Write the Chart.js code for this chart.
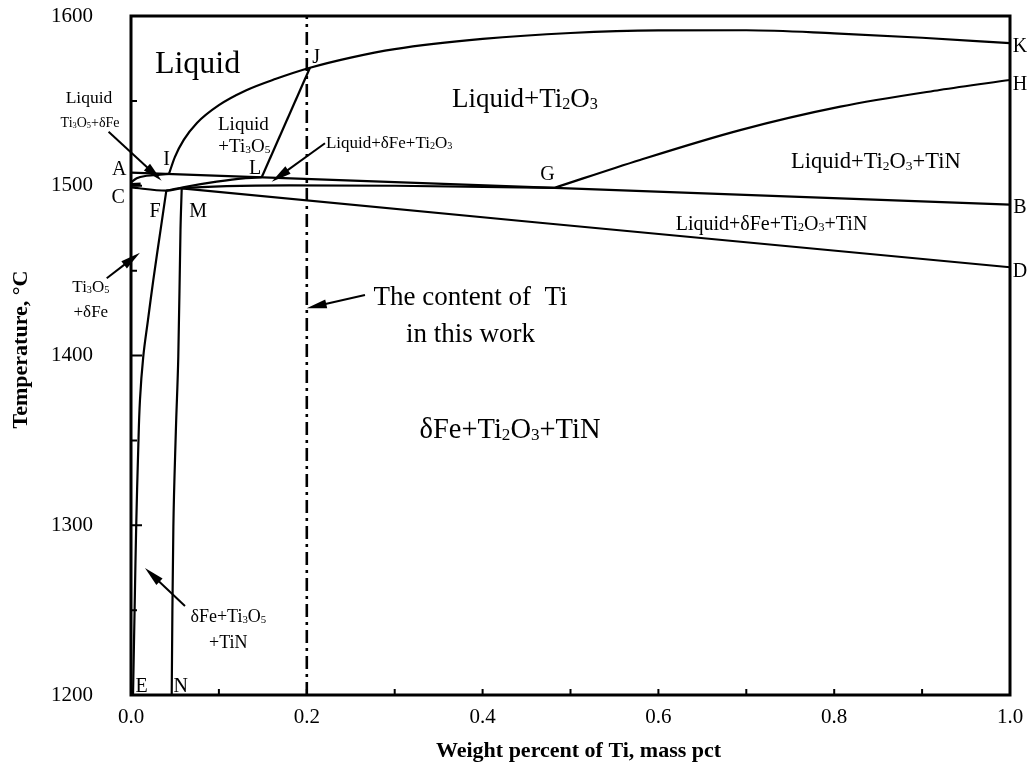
<!DOCTYPE html>
<html>
<head>
<meta charset="utf-8">
<title>Fe–Ti–O–N phase diagram</title>
<script src="https://cdn.jsdelivr.net/npm/chart.js@4.4.0/dist/chart.umd.min.js"></script>
<style>
  html, body { margin: 0; padding: 0; background: #fff; }
  #wrap { width: 1029px; height: 773px; }
</style>
</head>
<body>
<div id="wrap"><canvas id="c" width="1029" height="773"></canvas></div>
<script>
// ---- Axes ----
const xRange = [0, 1.0];
const yRange = [1200, 1600];
const xTickLabels = ['0.0', '0.2', '0.4', '0.6', '0.8', '1.0'];
const yTickLabels = ['1200', '1300', '1400', '1500', '1600'];
const xInnerTicks = [0.1, 0.2, 0.3, 0.4, 0.5, 0.6, 0.7, 0.8, 0.9];
const yMajorTicks = [1300, 1400, 1500];
const yMinorTicks = [1250, 1350, 1450, 1550];

// ---- Phase boundaries: Ti content (mass pct) vs temperature (°C) ----
// Liquidus I–J–K
const liqIJK_x = [0.0432, 0.05, 0.06, 0.075, 0.1, 0.13, 0.165, 0.2036, 0.25, 0.3, 0.4, 0.5, 0.6, 0.7, 0.8, 0.9, 1.0];
const liqIJK_T = [1507.0, 1517.0, 1527.0, 1537.0, 1547.5, 1556.0, 1563.0, 1569.5, 1575.5, 1580.5, 1586.5, 1590.0, 1591.5, 1591.6, 1589.8, 1587.2, 1584.0];
// Small curve from C up to I
const curveCI_x = [0.0, 0.0065, 0.0178, 0.033, 0.0432];
const curveCI_T = [1502.0, 1504.4, 1505.9, 1506.6, 1507.0];
// A–G–B
const lineAGB_x = [0.0, 0.482, 1.0];
const lineAGB_T = [1507.7, 1498.8, 1488.9];
// C–F–M–G
const lineCFMG_x = [0.0, 0.0402, 0.0577, 0.18, 0.3, 0.482];
const lineCFMG_T = [1499.0, 1497.1, 1498.4, 1500.2, 1500.0, 1498.8];
// F–L
const curveFL_x = [0.0402, 0.0592, 0.0975, 0.1278, 0.1487];
const curveFL_T = [1497.1, 1499.1, 1502.4, 1504.4, 1505.0];
// L–J
const lineLJ_x = [0.1487, 0.2036];
const lineLJ_T = [1505.0, 1569.5];
// G–H
const curveGH_x = [0.482, 0.579, 0.693, 0.807, 0.92, 1.0];
const curveGH_T = [1498.8, 1515.2, 1532.8, 1546.6, 1556.4, 1562.3];
// M–D
const lineMD_x = [0.0577, 0.4653, 1.0];
const lineMD_T = [1498.4, 1478.2, 1452.0];
// E–F
const curveEF_x = [0.0023, 0.0043, 0.0059, 0.0082, 0.0102, 0.0139, 0.0193, 0.0254, 0.0336, 0.0402];
const curveEF_T = [1200.0, 1256.0, 1299.0, 1344.3, 1373.8, 1399.1, 1420.9, 1444.5, 1473.9, 1497.1];
// N–M
const curveNM_x = [0.0463, 0.0482, 0.051, 0.0538, 0.0563, 0.0577];
const curveNM_T = [1200.0, 1299.1, 1355.0, 1399.3, 1474.0, 1498.4];
// Short mark near C
const markC_x = [0.001, 0.011];
const markC_T = [1500.6, 1500.9];
// Ti content used in this work
const workTi_x = [0.2, 0.2];
const workTi_T = [1200, 1600];

// ---- Annotations (data coordinates) ----
const FAMILY = "'Liberation Serif','Times New Roman',serif";
const regionLabels = [
  { t: 'Liquid', x: 0.0757, T: 1566.6, s: 32 },
  { t: 'Liquid+Ti_2O_3', x: 0.4482, T: 1546.6, s: 27 },
  { t: 'Liquid+Ti_2O_3+TiN', x: 0.8474, T: 1510.3, s: 22.5 },
  { t: 'Liquid+δFe+Ti_2O_3+TiN', x: 0.7287, T: 1473.9, s: 20 },
  { t: 'δFe+Ti_2O_3+TiN', x: 0.4312, T: 1351.5, s: 28.5 },
  { t: 'The content of  Ti', x: 0.3862, T: 1429.7, s: 27 },
  { t: 'in this work', x: 0.3862, T: 1408.1, s: 27 },
  { t: 'Liquid+δFe+Ti_2O_3', x: 0.2937, T: 1522.1, s: 17 },
  { t: 'Liquid', x: 0.1278, T: 1532.8, s: 19 },
  { t: '+Ti_3O_5', x: 0.1290, T: 1520.1, s: 19 },
  { t: 'Liquid', x: -0.0478, T: 1548.7, s: 17.5 },
  { t: 'Ti_3O_5+δFe', x: -0.0466, T: 1534.8, s: 14 },
  { t: 'Ti_3O_5', x: -0.0457, T: 1437.6, s: 17 },
  { t: '+δFe', x: -0.0457, T: 1422.9, s: 17 },
  { t: 'δFe+Ti_3O_5', x: 0.1107, T: 1243.2, s: 18 },
  { t: '+TiN', x: 0.1107, T: 1227.5, s: 18 }
];
const pointLabels = [
  { t: 'A', x: -0.0134, T: 1506.3 }, { t: 'C', x: -0.0145, T: 1490.0 },
  { t: 'I', x: 0.0406, T: 1512.2 },  { t: 'F', x: 0.0273, T: 1481.8 },
  { t: 'M', x: 0.0765, T: 1481.8 },  { t: 'L', x: 0.1411, T: 1506.9 },
  { t: 'J', x: 0.2105, T: 1572.1 },  { t: 'G', x: 0.4738, T: 1503.4 },
  { t: 'K', x: 1.0114, T: 1579.0 },  { t: 'H', x: 1.0114, T: 1556.4 },
  { t: 'B', x: 1.0114, T: 1483.8 },  { t: 'D', x: 1.0114, T: 1446.4 },
  { t: 'E', x: 0.0122, T: 1201.9 },  { t: 'N', x: 0.0567, T: 1201.9 }
];
// Arrows: tail -> head
const arrows = [
  { x1: -0.0255, T1: 1531.8, x2: 0.0349, T2: 1503.0 },
  { x1: 0.2207, T1: 1525.0, x2: 0.1601, T2: 1502.4 },
  { x1: -0.0276, T1: 1445.5, x2: 0.0102, T2: 1460.6 },
  { x1: 0.0614, T1: 1252.4, x2: 0.0159, T2: 1274.8 },
  { x1: 0.2662, T1: 1435.6, x2: 0.1999, T2: 1427.8 }
];

// ---- helpers ----
function pts(xs, ts) { return xs.map((x, i) => ({ x: x, y: ts[i] })); }
// mode: 'monotone' for x-monotone curves, a number for a tension spline, null for straight segments
function boundary(xs, ts, mode, extra) {
  return Object.assign({
    data: pts(xs, ts),
    borderColor: '#000',
    borderWidth: 2.2,
    pointRadius: 0,
    pointHoverRadius: 0,
    fill: false,
    tension: typeof mode === 'number' ? mode : 0,
    cubicInterpolationMode: mode === 'monotone' ? 'monotone' : 'default'
  }, extra || {});
}

function splitRich(s) {
  const parts = [];
  let buf = '';
  for (let i = 0; i < s.length; i++) {
    if (s[i] === '_') {
      if (buf) { parts.push({ t: buf, sub: false }); buf = ''; }
      parts.push({ t: s[i + 1], sub: true });
      i++;
    } else buf += s[i];
  }
  if (buf) parts.push({ t: buf, sub: false });
  return parts;
}
function drawRich(ctx, s, x, y, size, align, weight) {
  const w0 = weight ? weight + ' ' : '';
  const main = w0 + size + 'px ' + FAMILY;
  const small = w0 + (size * 0.6).toFixed(1) + 'px ' + FAMILY;
  const parts = splitRich(s);
  let w = 0;
  parts.forEach(p => { ctx.font = p.sub ? small : main; p.w = ctx.measureText(p.t).width; w += p.w; });
  let cx = align === 'center' ? x - w / 2 : (align === 'right' ? x - w : x);
  ctx.textAlign = 'left';
  ctx.textBaseline = 'alphabetic';
  parts.forEach(p => {
    ctx.font = p.sub ? small : main;
    ctx.fillText(p.t, cx, y + (p.sub ? size * 0.07 : 0));
    cx += p.w;
  });
}
function drawArrow(ctx, x1, y1, x2, y2) {
  const a = Math.atan2(y2 - y1, x2 - x1);
  const L = 20, W = 4.5;
  const bx = x2 - L * Math.cos(a), by = y2 - L * Math.sin(a);
  ctx.lineWidth = 2;
  ctx.beginPath(); ctx.moveTo(x1, y1); ctx.lineTo(bx + 2 * Math.cos(a), by + 2 * Math.sin(a)); ctx.stroke();
  ctx.beginPath();
  ctx.moveTo(x2, y2);
  ctx.lineTo(bx - W * Math.sin(a), by + W * Math.cos(a));
  ctx.lineTo(bx + W * Math.sin(a), by - W * Math.cos(a));
  ctx.closePath(); ctx.fill();
}

// Frame, inward ticks, titles and annotations
const diagramDecor = {
  id: 'diagramDecor',
  afterDatasetsDraw(chart) {
    const ctx = chart.ctx, a = chart.chartArea;
    const xs = chart.scales.x, ys = chart.scales.y;
    ctx.save();
    ctx.strokeStyle = '#000';
    ctx.fillStyle = '#000';
    // inward ticks
    ctx.lineWidth = 2;
    ctx.beginPath();
    xInnerTicks.forEach(v => { const px = xs.getPixelForValue(v); ctx.moveTo(px, a.bottom); ctx.lineTo(px, a.bottom - 6); });
    yMajorTicks.forEach(v => { const py = ys.getPixelForValue(v); ctx.moveTo(a.left, py); ctx.lineTo(a.left + 11, py); });
    yMinorTicks.forEach(v => { const py = ys.getPixelForValue(v); ctx.moveTo(a.left, py); ctx.lineTo(a.left + 6, py); });
    ctx.stroke();
    // frame
    ctx.lineWidth = 3;
    ctx.strokeRect(a.left, a.top, a.right - a.left, a.bottom - a.top);

    // region and phase labels
    regionLabels.forEach(l => drawRich(ctx, l.t, xs.getPixelForValue(l.x), ys.getPixelForValue(l.T), l.s, 'center'));
    pointLabels.forEach(l => drawRich(ctx, l.t, xs.getPixelForValue(l.x), ys.getPixelForValue(l.T), 20, 'center'));
    arrows.forEach(r => drawArrow(ctx,
      xs.getPixelForValue(r.x1), ys.getPixelForValue(r.T1),
      xs.getPixelForValue(r.x2), ys.getPixelForValue(r.T2)));

    // axis titles
    drawRich(ctx, 'Weight percent of Ti, mass pct', (a.left + a.right) / 2 + 8, a.bottom + 62, 22, 'center', 'bold');
    ctx.save();
    ctx.translate(27, (a.top + a.bottom) / 2 - 6);
    ctx.rotate(-Math.PI / 2);
    drawRich(ctx, 'Temperature, °C', 0, 0, 22, 'center', 'bold');
    ctx.restore();
    ctx.restore();
  }
};

const tickFont = { family: FAMILY, size: 21 };

new Chart(document.getElementById('c'), {
  type: 'line',
  data: {
    datasets: [
      boundary(liqIJK_x, liqIJK_T, 'monotone'),
      boundary(curveCI_x, curveCI_T, 'monotone'),
      boundary(lineAGB_x, lineAGB_T, null),
      boundary(lineCFMG_x, lineCFMG_T, 'monotone'),
      boundary(curveFL_x, curveFL_T, 'monotone'),
      boundary(lineLJ_x, lineLJ_T, null),
      boundary(curveGH_x, curveGH_T, 'monotone'),
      boundary(lineMD_x, lineMD_T, null),
      boundary(curveEF_x, curveEF_T, 0.4),
      boundary(curveNM_x, curveNM_T, 0.4),
      boundary(markC_x, markC_T, null, { borderWidth: 3.5 }),
      boundary(workTi_x, workTi_T, null, { borderWidth: 2.6, borderDash: [13, 5, 3, 5] })
    ]
  },
  options: {
    responsive: false,
    animation: false,
    events: [],
    layout: { padding: { left: 0, right: 19, top: 16, bottom: 0 } },
    plugins: { legend: { display: false }, tooltip: { enabled: false }, title: { display: false } },
    scales: {
      x: {
        type: 'linear',
        position: 'bottom',
        min: xRange[0], max: xRange[1],
        grid: { display: false, drawTicks: false },
        border: { display: false },
        ticks: {
          stepSize: 0.2,
          color: '#000',
          font: tickFont,
          padding: 10,
          maxRotation: 0,
          callback: (v) => {
            const i = Math.round(v / 0.2);
            return Math.abs(v - i * 0.2) < 1e-6 ? xTickLabels[i] : '';
          }
        },
        afterFit: (s) => { s.height = 78; s.paddingLeft = 0; s.paddingRight = 0; }
      },
      y: {
        type: 'linear',
        position: 'left',
        min: yRange[0], max: yRange[1],
        grid: { display: false, drawTicks: false },
        border: { display: false },
        ticks: {
          stepSize: 100,
          color: '#000',
          font: tickFont,
          padding: 38,
          callback: (v) => {
            const i = Math.round((v - 1200) / 100);
            return yTickLabels[i] || '';
          }
        },
        afterFit: (s) => { s.width = 131; s.paddingTop = 0; s.paddingBottom = 0; }
      }
    }
  },
  plugins: [diagramDecor]
});
</script>
</body>
</html>
